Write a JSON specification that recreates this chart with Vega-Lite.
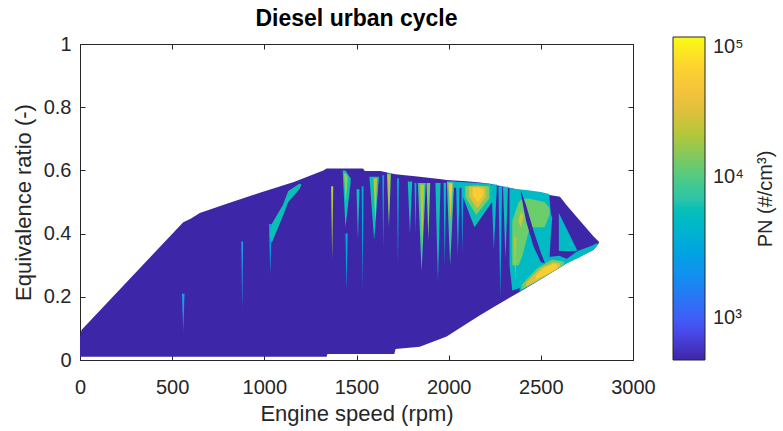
{
  "$schema": "https://vega.github.io/schema/vega-lite/v6.json",
  "width": 553,
  "height": 316,
  "autosize": {"type": "none"},
  "padding": {"left": 80, "top": 44, "right": 150, "bottom": 71},
  "background": "white",
  "title": {"text": "Diesel urban cycle", "font": "Liberation Sans", "fontSize": 23, "fontWeight": "bold", "color": "#000000", "anchor": "middle", "baseline": "alphabetic", "offset": 16, "dy": 31},
  "config": {
    "view": {"stroke": "#262626", "strokeWidth": 1},
    "axis": {"grid": false, "domainColor": "#262626", "tickColor": "#262626", "labelColor": "#262626", "titleColor": "#262626", "labelFont": "Liberation Sans", "titleFont": "Liberation Sans", "labelFontSize": 20, "titleFontSize": 22, "titleFontWeight": "normal", "tickSize": -5, "domainWidth": 1, "tickWidth": 1, "labelFlush": false}
  },
  "datasets": {
    "pn": [
      {"id":"base","rpm":0,"lo":0.01,"hi":0.07,"pn":500},
      {"id":"base","rpm":8,"lo":0.01,"hi":0.095,"pn":500},
      {"id":"base","rpm":560,"lo":0.01,"hi":0.436,"pn":500},
      {"id":"base","rpm":600,"lo":0.01,"hi":0.447,"pn":500},
      {"id":"base","rpm":650,"lo":0.01,"hi":0.465,"pn":500},
      {"id":"base","rpm":800,"lo":0.01,"hi":0.495,"pn":500},
      {"id":"base","rpm":980,"lo":0.01,"hi":0.53,"pn":500},
      {"id":"base","rpm":1160,"lo":0.01,"hi":0.563,"pn":500},
      {"id":"base","rpm":1320,"lo":0.01,"hi":0.6,"pn":500},
      {"id":"base","rpm":1338,"lo":0.01,"hi":0.606,"pn":500},
      {"id":"base","rpm":1342,"lo":0.019,"hi":0.606,"pn":500},
      {"id":"base","rpm":1535,"lo":0.019,"hi":0.606,"pn":500},
      {"id":"base","rpm":1545,"lo":0.019,"hi":0.598,"pn":500},
      {"id":"base","rpm":1630,"lo":0.019,"hi":0.598,"pn":500},
      {"id":"base","rpm":1690,"lo":0.019,"hi":0.59,"pn":500},
      {"id":"base","rpm":1705,"lo":0.019,"hi":0.589,"pn":500},
      {"id":"base","rpm":1712,"lo":0.035,"hi":0.588,"pn":500},
      {"id":"base","rpm":1843,"lo":0.042,"hi":0.58,"pn":500},
      {"id":"base","rpm":1961,"lo":0.068,"hi":0.572,"pn":500},
      {"id":"base","rpm":1989,"lo":0.074,"hi":0.57,"pn":500},
      {"id":"base","rpm":2097,"lo":0.115,"hi":0.566,"pn":500},
      {"id":"base","rpm":2170,"lo":0.142,"hi":0.562,"pn":500},
      {"id":"base","rpm":2222,"lo":0.16,"hi":0.558,"pn":500},
      {"id":"base","rpm":2330,"lo":0.197,"hi":0.545,"pn":500},
      {"id":"base","rpm":2387,"lo":0.216,"hi":0.538,"pn":500},
      {"id":"base","rpm":2475,"lo":0.247,"hi":0.529,"pn":500},
      {"id":"base","rpm":2604,"lo":0.293,"hi":0.517,"pn":500},
      {"id":"base","rpm":2640,"lo":0.306,"hi":0.49,"pn":500},
      {"id":"base","rpm":2785,"lo":0.348,"hi":0.392,"pn":500},
      {"id":"base","rpm":2815,"lo":0.37,"hi":0.374,"pn":500},

      {"id":"s01","rpm":553,"lo":0.21,"hi":0.21,"pn":2500},
      {"id":"s01","rpm":560,"lo":0.09,"hi":0.21,"pn":2500},
      {"id":"s01","rpm":567,"lo":0.21,"hi":0.21,"pn":2500},
      {"id":"s02","rpm":875,"lo":0.375,"hi":0.375,"pn":2500},
      {"id":"s02","rpm":880,"lo":0.16,"hi":0.375,"pn":2500},
      {"id":"s02","rpm":885,"lo":0.375,"hi":0.375,"pn":2500},
      {"id":"s03","rpm":1025,"lo":0.43,"hi":0.43,"pn":3000},
      {"id":"s03","rpm":1032,"lo":0.27,"hi":0.43,"pn":3000},
      {"id":"s03","rpm":1040,"lo":0.43,"hi":0.43,"pn":3000},
      {"id":"s04","rpm":1030,"lo":0.39,"hi":0.40,"pn":6000},
      {"id":"s04","rpm":1040,"lo":0.37,"hi":0.43,"pn":6000},
      {"id":"s04","rpm":1100,"lo":0.455,"hi":0.49,"pn":6000},
      {"id":"s04","rpm":1130,"lo":0.50,"hi":0.535,"pn":6000},
      {"id":"s04","rpm":1190,"lo":0.54,"hi":0.558,"pn":6000},
      {"id":"s04","rpm":1200,"lo":0.553,"hi":0.556,"pn":6000},

      {"id":"t03","rpm":1440,"lo":0.40,"hi":0.40,"pn":3500},
      {"id":"t03","rpm":1446,"lo":0.22,"hi":0.40,"pn":3500},
      {"id":"t03","rpm":1452,"lo":0.40,"hi":0.40,"pn":3500},
      {"id":"t05","rpm":1528,"lo":0.55,"hi":0.55,"pn":3500},
      {"id":"t05","rpm":1533,"lo":0.22,"hi":0.55,"pn":3500},
      {"id":"t05","rpm":1538,"lo":0.55,"hi":0.55,"pn":3500},
      {"id":"t07","rpm":1640,"lo":0.585,"hi":0.585,"pn":3000},
      {"id":"t07","rpm":1645,"lo":0.35,"hi":0.585,"pn":3000},
      {"id":"t07","rpm":1650,"lo":0.585,"hi":0.585,"pn":3000},
      {"id":"t09","rpm":1720,"lo":0.575,"hi":0.575,"pn":3500},
      {"id":"t09","rpm":1725,"lo":0.30,"hi":0.575,"pn":3500},
      {"id":"t09","rpm":1730,"lo":0.575,"hi":0.575,"pn":3500},
      {"id":"t11","rpm":1815,"lo":0.56,"hi":0.56,"pn":3500},
      {"id":"t11","rpm":1820,"lo":0.40,"hi":0.56,"pn":3500},
      {"id":"t11","rpm":1825,"lo":0.56,"hi":0.56,"pn":3500},
      {"id":"t18","rpm":2068,"lo":0.56,"hi":0.56,"pn":3500},
      {"id":"t18","rpm":2074,"lo":0.34,"hi":0.56,"pn":3500},
      {"id":"t18","rpm":2080,"lo":0.56,"hi":0.56,"pn":3500},
      {"id":"t20","rpm":2270,"lo":0.55,"hi":0.55,"pn":4000},
      {"id":"t20","rpm":2280,"lo":0.20,"hi":0.55,"pn":4000},
      {"id":"t20","rpm":2290,"lo":0.55,"hi":0.55,"pn":4000},

      {"id":"t02","rpm":1425,"lo":0.60,"hi":0.60,"pn":6000},
      {"id":"t02","rpm":1440,"lo":0.42,"hi":0.60,"pn":6000},
      {"id":"t02","rpm":1468,"lo":0.56,"hi":0.575,"pn":6000},
      {"id":"t04","rpm":1500,"lo":0.54,"hi":0.54,"pn":6000},
      {"id":"t04","rpm":1508,"lo":0.38,"hi":0.54,"pn":6000},
      {"id":"t04","rpm":1516,"lo":0.54,"hi":0.54,"pn":6000},
      {"id":"t06","rpm":1570,"lo":0.58,"hi":0.58,"pn":6000},
      {"id":"t06","rpm":1596,"lo":0.38,"hi":0.58,"pn":6000},
      {"id":"t06","rpm":1622,"lo":0.58,"hi":0.58,"pn":6000},
      {"id":"t10","rpm":1778,"lo":0.565,"hi":0.565,"pn":6000},
      {"id":"t10","rpm":1790,"lo":0.40,"hi":0.565,"pn":6000},
      {"id":"t10","rpm":1802,"lo":0.565,"hi":0.565,"pn":6000},
      {"id":"t14","rpm":1928,"lo":0.56,"hi":0.56,"pn":6000},
      {"id":"t14","rpm":1942,"lo":0.25,"hi":0.56,"pn":6000},
      {"id":"t14","rpm":1956,"lo":0.56,"hi":0.56,"pn":6000},
      {"id":"t15","rpm":1972,"lo":0.56,"hi":0.56,"pn":5000},
      {"id":"t15","rpm":1979,"lo":0.30,"hi":0.56,"pn":5000},
      {"id":"t15","rpm":1986,"lo":0.56,"hi":0.56,"pn":5000},
      {"id":"t17","rpm":2040,"lo":0.56,"hi":0.56,"pn":5000},
      {"id":"t17","rpm":2050,"lo":0.33,"hi":0.56,"pn":5000},
      {"id":"t17","rpm":2060,"lo":0.56,"hi":0.56,"pn":5000},
      {"id":"t19","rpm":2232,"lo":0.555,"hi":0.555,"pn":5000},
      {"id":"t19","rpm":2245,"lo":0.35,"hi":0.555,"pn":5000},
      {"id":"t19","rpm":2262,"lo":0.555,"hi":0.555,"pn":5000},
      {"id":"t21","rpm":2295,"lo":0.548,"hi":0.548,"pn":6000},
      {"id":"t21","rpm":2308,"lo":0.32,"hi":0.548,"pn":6000},
      {"id":"t21","rpm":2322,"lo":0.548,"hi":0.548,"pn":6000},
      {"id":"t12","rpm":1833,"lo":0.56,"hi":0.56,"pn":8000},
      {"id":"t12","rpm":1853,"lo":0.28,"hi":0.56,"pn":8000},
      {"id":"t12","rpm":1876,"lo":0.56,"hi":0.56,"pn":8000},
      {"id":"t16","rpm":1990,"lo":0.565,"hi":0.565,"pn":8000},
      {"id":"t16","rpm":2008,"lo":0.30,"hi":0.565,"pn":8000},
      {"id":"t16","rpm":2030,"lo":0.565,"hi":0.565,"pn":8000},
      {"id":"top","rpm":2020,"lo":0.545,"hi":0.565,"pn":5000},
      {"id":"top","rpm":2230,"lo":0.545,"hi":0.558,"pn":5000},
      {"id":"b1","rpm":2075,"lo":0.52,"hi":0.552,"pn":6000},
      {"id":"b1","rpm":2140,"lo":0.42,"hi":0.556,"pn":6000},
      {"id":"b1","rpm":2235,"lo":0.50,"hi":0.552,"pn":6000},

      {"id":"A","rpm":2330,"lo":0.30,"hi":0.545,"pn":5000},
      {"id":"A","rpm":2345,"lo":0.22,"hi":0.543,"pn":5000},
      {"id":"A","rpm":2420,"lo":0.235,"hi":0.538,"pn":5000},
      {"id":"A","rpm":2500,"lo":0.27,"hi":0.532,"pn":5000},
      {"id":"A","rpm":2545,"lo":0.30,"hi":0.525,"pn":5000},
      {"id":"A","rpm":2555,"lo":0.40,"hi":0.46,"pn":5000},
      {"id":"A","rpm":2562,"lo":0.45,"hi":0.45,"pn":5000},
      {"id":"F","rpm":2598,"lo":0.345,"hi":0.465,"pn":5000},
      {"id":"F","rpm":2695,"lo":0.345,"hi":0.35,"pn":5000},
      {"id":"G","rpm":2640,"lo":0.306,"hi":0.32,"pn":5000},
      {"id":"G","rpm":2700,"lo":0.322,"hi":0.345,"pn":5000},
      {"id":"G","rpm":2780,"lo":0.347,"hi":0.362,"pn":5000},
      {"id":"G","rpm":2805,"lo":0.36,"hi":0.37,"pn":5000},
      {"id":"H","rpm":2385,"lo":0.217,"hi":0.235,"pn":5000},
      {"id":"H","rpm":2450,"lo":0.24,"hi":0.28,"pn":5000},
      {"id":"H","rpm":2530,"lo":0.266,"hi":0.325,"pn":5000},
      {"id":"H","rpm":2600,"lo":0.292,"hi":0.33,"pn":5000},
      {"id":"H","rpm":2650,"lo":0.309,"hi":0.318,"pn":5000},

      {"id":"B","rpm":2345,"lo":0.30,"hi":0.44,"pn":12000},
      {"id":"B","rpm":2380,"lo":0.30,"hi":0.50,"pn":12000},
      {"id":"B","rpm":2400,"lo":0.33,"hi":0.51,"pn":12000},
      {"id":"B","rpm":2440,"lo":0.42,"hi":0.51,"pn":12000},
      {"id":"B","rpm":2520,"lo":0.42,"hi":0.50,"pn":12000},
      {"id":"B","rpm":2548,"lo":0.46,"hi":0.48,"pn":12000},
      {"id":"H2","rpm":2395,"lo":0.222,"hi":0.238,"pn":12000},
      {"id":"H2","rpm":2480,"lo":0.25,"hi":0.29,"pn":12000},
      {"id":"H2","rpm":2560,"lo":0.278,"hi":0.318,"pn":12000},
      {"id":"H2","rpm":2625,"lo":0.30,"hi":0.312,"pn":12000},
      {"id":"t08","rpm":1665,"lo":0.59,"hi":0.59,"pn":12000},
      {"id":"t08","rpm":1676,"lo":0.42,"hi":0.59,"pn":12000},
      {"id":"t08","rpm":1687,"lo":0.59,"hi":0.59,"pn":12000},
      {"id":"t13","rpm":1880,"lo":0.56,"hi":0.56,"pn":12000},
      {"id":"t13","rpm":1890,"lo":0.38,"hi":0.56,"pn":12000},
      {"id":"t13","rpm":1900,"lo":0.56,"hi":0.56,"pn":12000},
      {"id":"t02b","rpm":1432,"lo":0.59,"hi":0.59,"pn":15000},
      {"id":"t02b","rpm":1442,"lo":0.50,"hi":0.59,"pn":15000},
      {"id":"t02b","rpm":1452,"lo":0.57,"hi":0.58,"pn":15000},
      {"id":"b2","rpm":2090,"lo":0.515,"hi":0.55,"pn":14000},
      {"id":"b2","rpm":2150,"lo":0.46,"hi":0.552,"pn":14000},
      {"id":"b2","rpm":2220,"lo":0.51,"hi":0.55,"pn":14000},

      {"id":"C","rpm":2392,"lo":0.525,"hi":0.535,"pn":500},
      {"id":"C","rpm":2420,"lo":0.44,"hi":0.49,"pn":500},
      {"id":"C","rpm":2460,"lo":0.36,"hi":0.41,"pn":500},
      {"id":"C","rpm":2500,"lo":0.31,"hi":0.34,"pn":500},
      {"id":"C","rpm":2520,"lo":0.305,"hi":0.31,"pn":500},

      {"id":"t01","rpm":1362,"lo":0.55,"hi":0.55,"pn":20000},
      {"id":"t01","rpm":1368,"lo":0.32,"hi":0.55,"pn":20000},
      {"id":"t01","rpm":1374,"lo":0.55,"hi":0.55,"pn":20000},
      {"id":"t06b","rpm":1592,"lo":0.575,"hi":0.575,"pn":20000},
      {"id":"t06b","rpm":1602,"lo":0.44,"hi":0.575,"pn":20000},
      {"id":"t06b","rpm":1612,"lo":0.575,"hi":0.575,"pn":20000},
      {"id":"t12b","rpm":1845,"lo":0.555,"hi":0.555,"pn":22000},
      {"id":"t12b","rpm":1856,"lo":0.36,"hi":0.555,"pn":22000},
      {"id":"t12b","rpm":1867,"lo":0.555,"hi":0.555,"pn":22000},
      {"id":"E","rpm":2354,"lo":0.39,"hi":0.39,"pn":20000},
      {"id":"E","rpm":2361,"lo":0.25,"hi":0.39,"pn":20000},
      {"id":"E","rpm":2368,"lo":0.39,"hi":0.39,"pn":20000},
      {"id":"t08b","rpm":1671,"lo":0.585,"hi":0.585,"pn":25000},
      {"id":"t08b","rpm":1676,"lo":0.46,"hi":0.585,"pn":25000},
      {"id":"t08b","rpm":1681,"lo":0.585,"hi":0.585,"pn":25000},
      {"id":"D","rpm":2378,"lo":0.44,"hi":0.44,"pn":25000},
      {"id":"D","rpm":2392,"lo":0.42,"hi":0.47,"pn":25000},
      {"id":"D","rpm":2405,"lo":0.45,"hi":0.46,"pn":25000},
      {"id":"t16b","rpm":1998,"lo":0.56,"hi":0.56,"pn":30000},
      {"id":"t16b","rpm":2010,"lo":0.44,"hi":0.56,"pn":30000},
      {"id":"t16b","rpm":2022,"lo":0.56,"hi":0.56,"pn":30000},
      {"id":"b3","rpm":2110,"lo":0.518,"hi":0.548,"pn":30000},
      {"id":"b3","rpm":2155,"lo":0.48,"hi":0.55,"pn":30000},
      {"id":"b3","rpm":2200,"lo":0.515,"hi":0.545,"pn":30000},
      {"id":"H3","rpm":2420,"lo":0.232,"hi":0.245,"pn":30000},
      {"id":"H3","rpm":2500,"lo":0.258,"hi":0.29,"pn":30000},
      {"id":"H3","rpm":2570,"lo":0.282,"hi":0.31,"pn":30000},
      {"id":"H3","rpm":2605,"lo":0.296,"hi":0.305,"pn":30000},

      {"id":"t16c","rpm":2003,"lo":0.555,"hi":0.555,"pn":50000},
      {"id":"t16c","rpm":2011,"lo":0.50,"hi":0.555,"pn":50000},
      {"id":"t16c","rpm":2019,"lo":0.555,"hi":0.555,"pn":50000},
      {"id":"b4","rpm":2130,"lo":0.52,"hi":0.545,"pn":55000},
      {"id":"b4","rpm":2160,"lo":0.50,"hi":0.545,"pn":55000},
      {"id":"b4","rpm":2185,"lo":0.52,"hi":0.54,"pn":55000},
      {"id":"H4","rpm":2475,"lo":0.256,"hi":0.268,"pn":55000},
      {"id":"H4","rpm":2525,"lo":0.27,"hi":0.295,"pn":55000},
      {"id":"H4","rpm":2575,"lo":0.285,"hi":0.305,"pn":55000},
      {"id":"H4","rpm":2590,"lo":0.292,"hi":0.30,"pn":55000}
    ]
  },
  "layer": [
    {
      "data": {"name": "pn"},
      "mark": {"type": "area", "interpolate": "linear"},
      "encoding": {
        "x": {"field": "rpm", "type": "quantitative", "scale": {"domain": [0, 3000], "nice": false, "zero": false},
              "axis": {"orient": "bottom", "values": [0, 500, 1000, 1500, 2000, 2500, 3000], "format": "d", "labelPadding": 22, "title": "Engine speed (rpm)", "titlePadding": 6}},
        "y": {"field": "hi", "type": "quantitative", "stack": null, "scale": {"domain": [0, 1], "nice": false},
              "axis": {"orient": "left", "values": [0, 0.2, 0.4, 0.6, 0.8, 1], "format": "~g", "labelPadding": 14, "title": "Equivalence ratio (-)", "titlePadding": 8}},
        "y2": {"field": "lo"},
        "detail": {"field": "id"},
        "color": {
          "field": "pn", "type": "quantitative",
          "scale": {"type": "log",
                    "domain": [500, 850, 1443, 2452, 4166, 7078, 12025, 20430, 34710, 58970, 100000],
                    "range": ["#3e26a8", "#4750f3", "#367cfb", "#229ae7", "#07b4cf", "#31c4a7", "#6bcd6b", "#b6c738", "#efbd42", "#fcd130", "#f9fb14"]},
          "legend": {
            "title": "PN (#/cm³)",
            "orient": "none", "legendX": 593, "legendY": -7,
            "direction": "vertical", "gradientLength": 323, "gradientThickness": 32,
            "gradientStrokeColor": "#262626", "gradientStrokeWidth": 1,
            "values": [1000, 10000, 100000],
            "labelExpr": "datum.value == 1000 ? '10³' : datum.value == 10000 ? '10⁴' : '10⁵'",
            "labelFont": "Liberation Sans", "labelFontSize": 20, "labelColor": "#262626", "labelOffset": 8, "labelOverlap": false,
            "titleFont": "Liberation Sans", "titleFontSize": 20, "titleFontWeight": "normal", "titleColor": "#262626",
            "titleOrient": "right", "titleAnchor": "middle", "titlePadding": 12,
            "encode": {"title": {"update": {"angle": {"value": -90}, "baseline": {"value": "top"}}}}
          }
        }
      }
    },
    {
      "data": {"name": "pn"},
      "mark": {"type": "point", "opacity": 0},
      "encoding": {
        "x": {"field": "rpm", "type": "quantitative", "axis": {"orient": "top", "values": [0, 500, 1000, 1500, 2000, 2500, 3000], "labels": false, "title": null, "domain": false}},
        "y": {"field": "hi", "type": "quantitative", "axis": {"orient": "right", "values": [0, 0.2, 0.4, 0.6, 0.8, 1], "labels": false, "title": null, "domain": false}}
      }
    }
  ],
  "resolve": {"axis": {"x": "independent", "y": "independent"}}
}
